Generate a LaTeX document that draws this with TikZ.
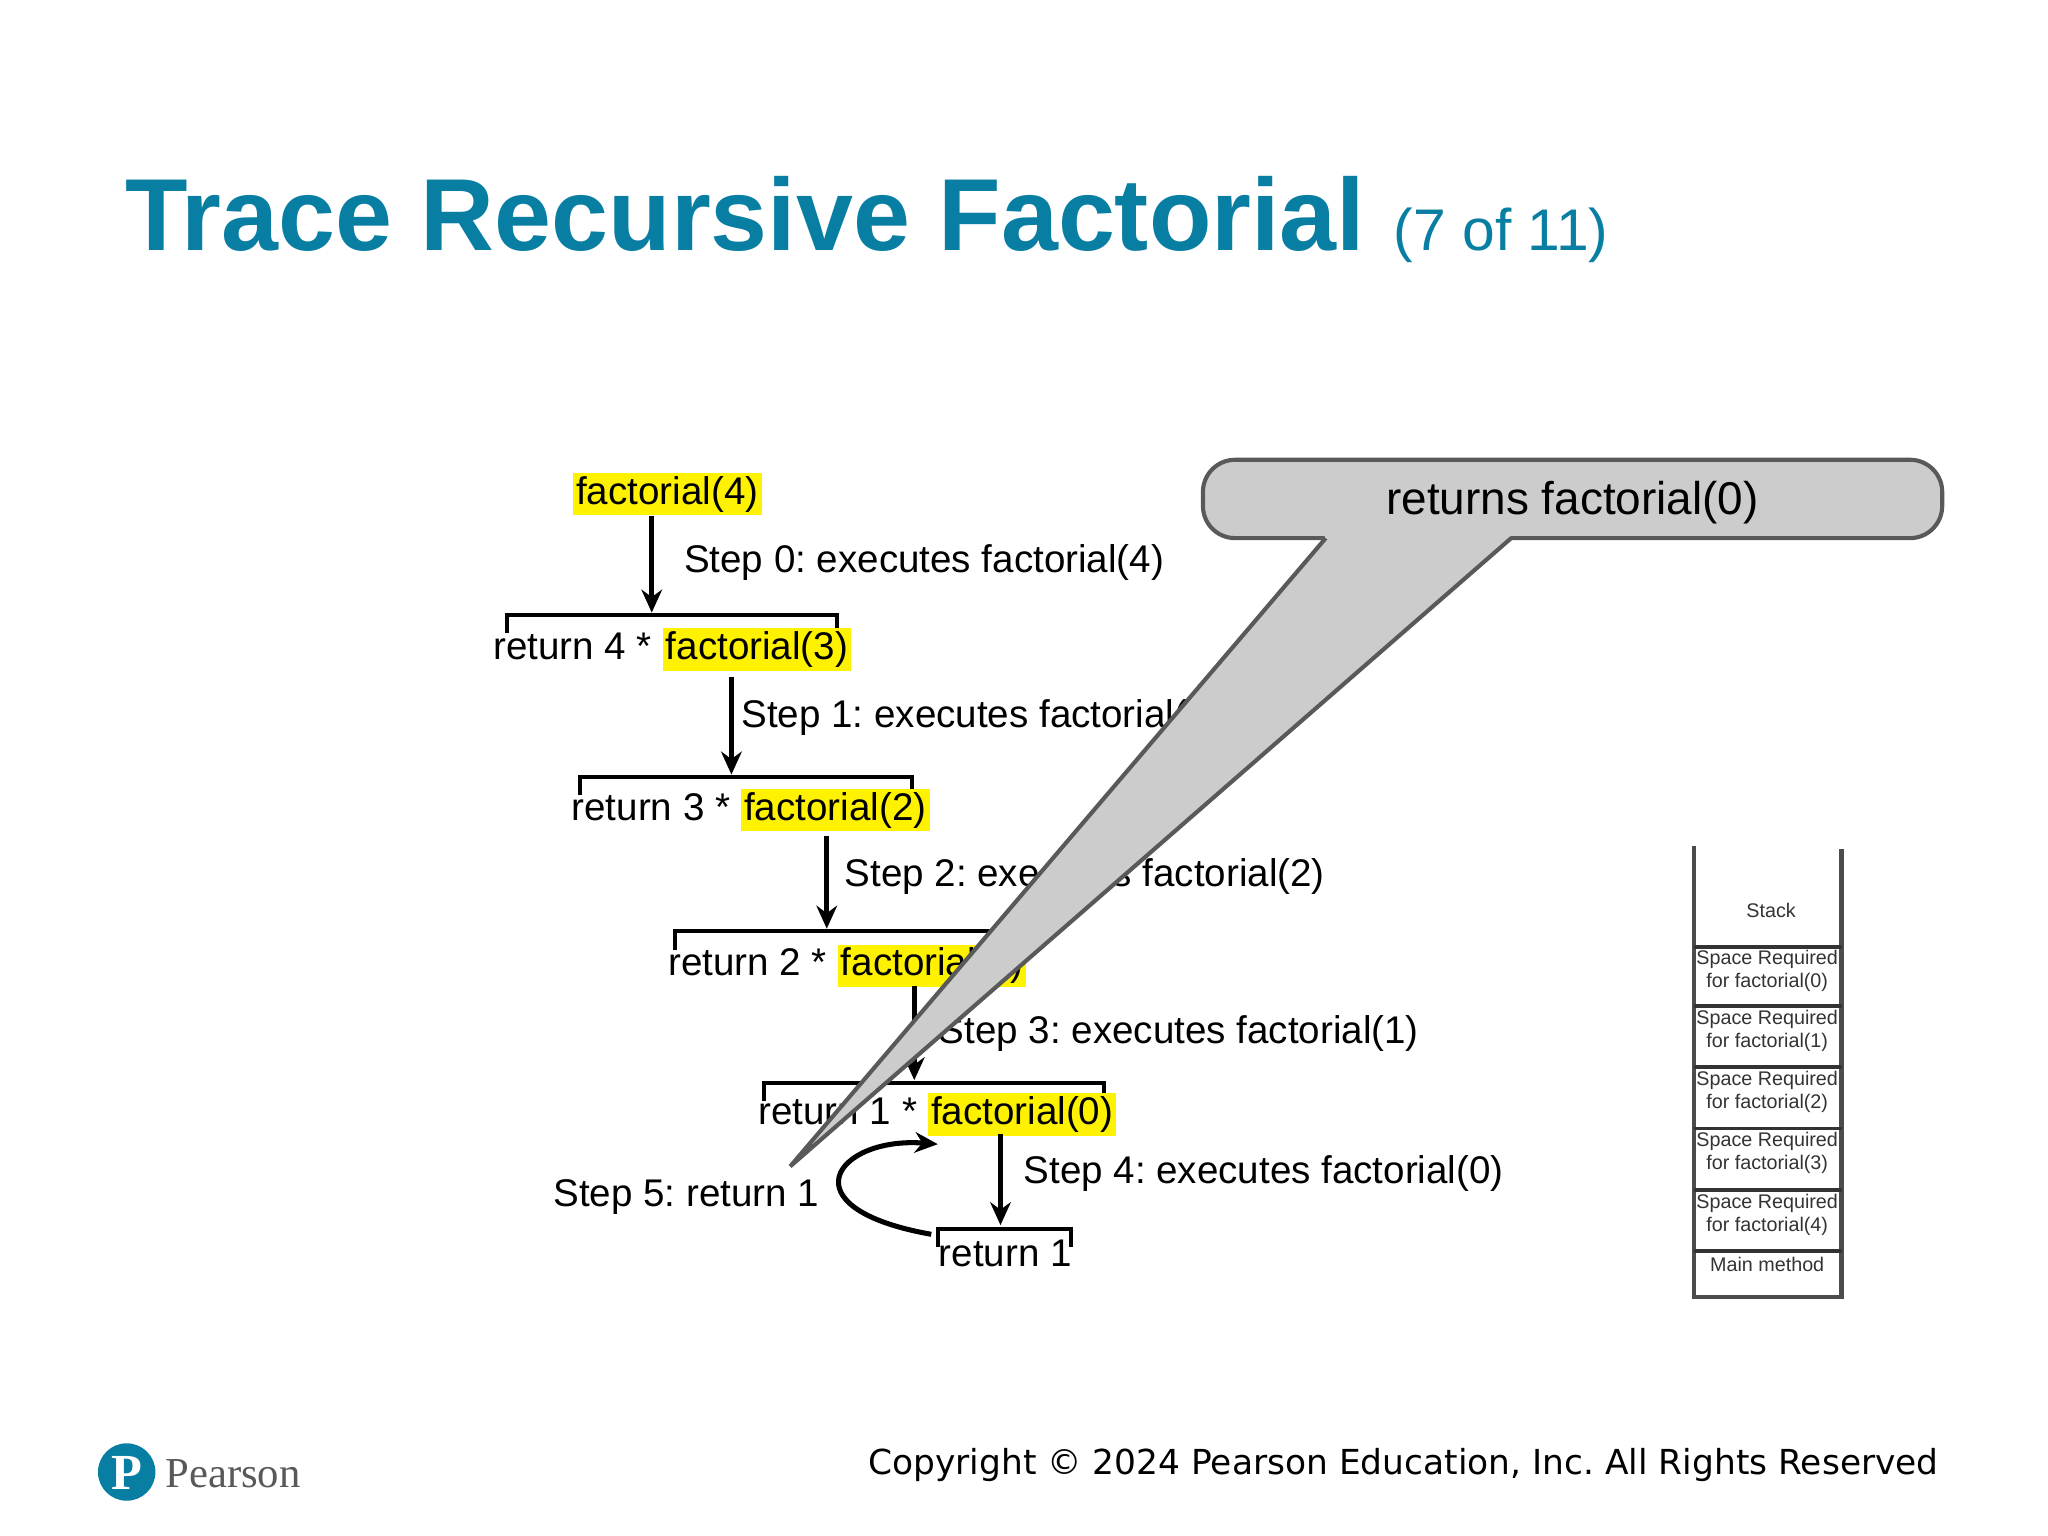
\documentclass[tikz,border=0pt]{standalone}
\usepackage{fontspec}
\setmainfont{Liberation Sans}
\newfontfamily\dejavu{DejaVu Sans}
\newfontfamily\serifp{Liberation Serif}
\usetikzlibrary{arrows.meta}
\definecolor{teal}{RGB}{8,126,162}
\definecolor{callgray}{RGB}{204,204,204}
\newcommand\hlt[1]{{\setlength\fboxsep{0.7pt}\colorbox{yellow}{#1}}}
\frenchspacing
\tikzset{
  dtext/.style={font=\fontsize{8.4}{10}\selectfont, inner sep=0pt, anchor=base west},
  stk/.style={font=\fontsize{4.3}{5}\selectfont, inner sep=0pt, align=center, text=black!80},
  arr/.style={-{Stealth[length=5pt,width=4.5pt]}, line width=1.1pt},
  brk/.style={line width=0.8pt},
}
\begin{document}
\begin{tikzpicture}[x=0.1mm,y=-0.1mm]
\useasboundingbox (0,0) rectangle (1568,1176);
% title
\node[anchor=base west, inner sep=0pt, text=teal] (title) at (95,192)
  {\fontsize{22.3}{26}\selectfont\bfseries Trace Recursive Factorial\ \fontsize{12.8}{14}\selectfont\mdseries (7 of 11)};
% diagram
\node[dtext] (f4) at (438,386) {\hlt{factorial(4)}};
\coordinate (a0s) at (499,395); \coordinate (a0e) at (499,469);
\draw[arr] (a0s) -- (a0e);
\node[dtext] (s0) at (523,438) {Step 0: executes factorial(4)};
\draw[brk] (388,485) |- (641,471) -- (641,485);
\node[dtext] (r4) at (377,505) {return 4 * \hlt{factorial(3)}};
\coordinate (a1s) at (560,518); \coordinate (a1e) at (560,593);
\draw[arr] (a1s) -- (a1e);
\node[dtext] (s1) at (567,557) {Step 1: executes factorial(3)};
\draw[brk] (444,609) |- (698,595) -- (698,609);
\node[dtext] (r3) at (437,628) {return 3 * \hlt{factorial(2)}};
\coordinate (a2s) at (633,640); \coordinate (a2e) at (633,711);
\draw[arr] (a2s) -- (a2e);
\node[dtext] (s2) at (646,679) {Step 2: executes factorial(2)};
\draw[brk] (517,727) |- (770,713) -- (770,727);
\node[dtext] (r2) at (511,747) {return 2 * \hlt{factorial(1)}};
\coordinate (a3s) at (700,755); \coordinate (a3e) at (700,827);
\draw[arr] (a3s) -- (a3e);
\node[dtext] (s3) at (718,799) {Step 3: executes factorial(1)};
\draw[brk] (585,843) |- (845,829) -- (845,843);
\node[dtext] (r1) at (580,861) {return 1 * \hlt{factorial(0)}};
\coordinate (a4s) at (766,868); \coordinate (a4e) at (766,938);
\draw[arr] (a4s) -- (a4e);
\node[dtext] (s4) at (783,906) {Step 4: executes factorial(0)};
\draw[brk] (718,955) |- (820,941) -- (820,955);
\node[dtext] (ret1) at (718,970) {return 1};
\node[dtext] (s5) at (423,924) {Step 5: return 1};
\coordinate (c5s) at (713,945); \coordinate (c5e) at (718,876);
\draw[arr] (c5s) .. controls (600,925) and (640,870) .. (c5e);
% callout
\draw[fill=callgray, draw=black!65, line width=0.9pt, rounded corners=7pt] (921,352) rectangle (1487,412);
\fill[callgray] (1015,410) -- (605,893) -- (1157,410) -- cycle;
\draw[black!65, line width=0.9pt] (1015,412) -- (605,893) -- (1157,412);
\node[font=\fontsize{10}{12}\selectfont, inner sep=0pt] (callout) at (1204,385) {returns factorial(0)};
% stack
\draw[line width=1pt, black!70] (1297,648) -- (1297,993) -- (1410,993) -- (1410,650);
\foreach \y in {725,770,817,864,911,958} \draw[line width=0.8pt, black!80] (1297,\y) -- (1410,\y);
\node[stk] (st) at (1356,697) {Stack};
\node[stk] (st0) at (1353,743) {Space Required\\for factorial(0)};
\node[stk] (st1) at (1353,789) {Space Required\\for factorial(1)};
\node[stk] (st2) at (1353,836) {Space Required\\for factorial(2)};
\node[stk] (st3) at (1353,883) {Space Required\\for factorial(3)};
\node[stk] (st4) at (1353,930) {Space Required\\for factorial(4)};
\node[stk] (stm) at (1353,968) {Main method};
% footer
\fill[teal] (97,1127) circle (22);
\node[text=white, font=\serifp\bfseries\fontsize{11}{12}\selectfont, inner sep=0pt] (plogo) at (97,1128) {P};
\node[anchor=west, text=black!65, font=\serifp\fontsize{9.3}{10}\selectfont, inner sep=0pt] (pname) at (126,1128) {Pearson};
\node[anchor=base east, inner sep=0pt, font=\dejavu\fontsize{7.5}{8}\selectfont] (copy) at (1485,1129) {Copyright © 2024 Pearson Education, Inc. All Rights Reserved};
\end{tikzpicture}
\end{document}
